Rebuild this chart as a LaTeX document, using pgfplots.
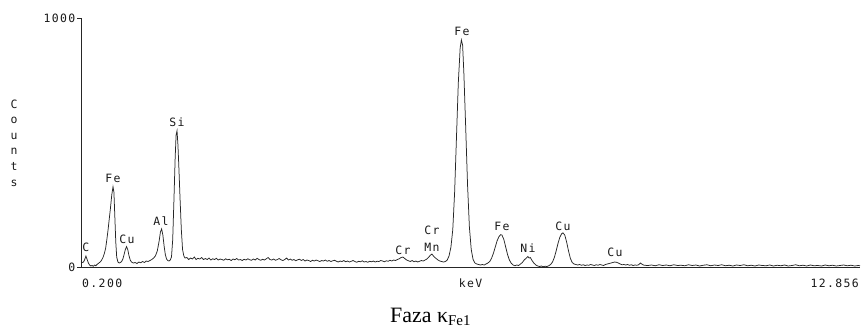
\documentclass[border=0pt]{standalone}
\usepackage{pgfplots}
\pgfplotsset{compat=1.18}
\usepackage{pgfplotstable}
\usepackage{fontspec}
\setmainfont{Liberation Serif}
\newfontfamily\mono[LetterSpace=12]{DejaVu Sans Mono}
\newcommand\lbl{\mono\fontsize{11.5}{13}\selectfont}
\tikzset{pk/.style={font=\lbl, text=black!90, inner sep=0pt}}

\pgfplotstableread{
x y
0.20 22
0.22 18
0.24 20
0.26 30
0.28 44
0.30 30
0.32 16
0.34 8
0.36 4
0.38 6
0.40 3
0.42 8
0.44 5
0.46 10
0.48 14
0.50 18
0.52 22
0.54 30
0.56 40
0.58 55
0.60 75
0.62 110
0.64 150
0.66 195
0.68 240
0.70 290
0.72 322
0.735 300
0.75 200
0.765 100
0.78 40
0.80 20
0.82 16
0.84 18
0.86 22
0.88 32
0.90 50
0.92 70
0.94 82
0.96 70
0.98 45
1.00 28
1.02 20
1.05 16
1.08 18
1.11 14
1.14 20
1.17 17
1.20 22
1.23 18
1.26 24
1.29 22
1.32 26
1.35 30
1.38 36
1.41 45
1.44 65
1.47 105
1.49 140
1.51 153
1.53 128
1.55 85
1.57 50
1.59 32
1.61 26
1.63 24
1.65 28
1.67 40
1.69 110
1.71 270
1.73 440
1.745 530
1.76 547
1.775 490
1.79 400
1.81 270
1.83 150
1.85 70
1.87 45
1.89 36
1.92 38
1.95 30
1.98 36
2.01 32
2.04 40
2.07 30
2.10 35
2.13 32
2.16 38
2.19 30
2.22 34
2.25 30
2.28 36
2.31 28
2.34 33
2.37 30
2.40 35
2.43 28
2.46 32
2.49 30
2.52 27
2.55 33
2.58 29
2.61 31
2.64 26
2.67 32
2.70 29
2.73 34
2.76 28
2.79 30
2.82 26
2.85 31
2.88 28
2.91 33
2.94 29
2.97 27
3.00 32
3.03 28
3.06 35
3.09 30
3.12 27
3.15 31
3.18 28
3.21 33
3.24 38
3.27 30
3.30 28
3.33 32
3.36 27
3.39 30
3.42 34
3.45 29
3.48 26
3.51 30
3.54 36
3.57 28
3.60 32
3.63 27
3.66 30
3.69 25
3.72 29
3.75 31
3.78 26
3.81 30
3.84 24
3.87 28
3.90 26
3.93 22
3.96 27
3.99 24
4.02 28
4.05 25
4.08 22
4.11 26
4.14 24
4.17 28
4.20 23
4.23 26
4.26 22
4.29 25
4.32 27
4.35 23
4.38 20
4.41 24
4.44 22
4.47 26
4.50 21
4.53 24
4.56 20
4.59 23
4.62 26
4.65 22
4.68 19
4.71 23
4.74 21
4.77 25
4.80 20
4.83 22
4.86 19
4.89 23
4.92 21
4.95 24
4.98 20
5.01 23
5.04 22
5.07 26
5.10 24
5.13 21
5.16 25
5.19 23
5.22 27
5.25 24
5.28 28
5.31 26
5.34 30
5.37 33
5.40 38
5.43 40
5.46 34
5.49 28
5.52 25
5.55 22
5.58 26
5.61 21
5.64 24
5.67 20
5.70 23
5.73 26
5.76 24
5.79 28
5.82 32
5.85 40
5.88 48
5.90 52
5.92 46
5.94 40
5.97 34
6.00 28
6.03 24
6.06 22
6.09 20
6.12 22
6.15 28
6.18 45
6.21 80
6.24 150
6.27 300
6.30 520
6.33 740
6.36 880
6.38 912
6.40 890
6.42 780
6.45 560
6.48 330
6.51 160
6.54 70
6.57 30
6.60 16
6.63 12
6.66 10
6.69 8
6.72 10
6.75 8
6.78 12
6.81 16
6.84 22
6.87 35
6.90 55
6.93 80
6.96 105
6.99 122
7.02 130
7.04 128
7.07 110
7.10 80
7.13 50
7.16 28
7.19 15
7.22 8
7.25 5
7.28 8
7.31 6
7.34 12
7.37 18
7.40 28
7.43 35
7.46 42
7.48 36
7.50 38
7.53 25
7.56 15
7.59 8
7.62 4
7.65 2
7.68 4
7.71 1
7.74 3
7.77 2
7.80 5
7.83 10
7.86 20
7.89 38
7.92 65
7.95 95
7.98 120
8.01 134
8.03 137
8.06 128
8.09 100
8.12 65
8.15 35
8.18 18
8.21 12
8.24 10
8.27 8
8.30 10
8.33 7
8.36 9
8.39 6
8.42 8
8.45 7
8.48 10
8.51 8
8.54 6
8.57 9
8.60 7
8.63 10
8.66 8
8.69 6
8.72 10
8.75 12
8.78 14
8.81 16
8.84 18
8.87 20
8.90 19
8.93 16
8.96 12
8.99 9
9.02 10
9.05 8
9.08 10
9.11 7
9.14 9
9.17 6
9.20 8
9.23 7
9.26 9
9.29 16
9.32 10
9.35 7
9.41 6
9.47 8
9.53 5
9.59 9
9.65 6
9.71 8
9.77 5
9.83 9
9.89 6
9.95 7
10.01 5
10.07 9
10.13 6
10.19 8
10.25 4
10.31 7
10.37 9
10.43 5
10.49 8
10.55 6
10.61 9
10.67 5
10.73 7
10.79 4
10.85 8
10.91 6
10.97 9
11.03 5
11.09 7
11.15 4
11.21 8
11.27 6
11.33 5
11.39 8
11.45 4
11.51 7
11.57 5
11.63 8
11.69 4
11.75 6
11.81 9
11.87 5
11.93 7
11.99 4
12.05 8
12.11 5
12.17 6
12.23 4
12.29 8
12.35 5
12.41 7
12.47 4
12.53 6
12.59 8
12.65 5
12.71 7
12.77 4
12.83 6
12.856 5
}\spectrum

\begin{document}
\begin{tikzpicture}
\useasboundingbox (0,0) rectangle (861bp,329bp);
\begin{axis}[
  at={(81bp,62bp)}, anchor=south west,
  width=779bp, height=249bp, scale only axis,
  xmin=0.2, xmax=12.856, ymin=0, ymax=1000,
  axis x line=bottom, axis y line=left,
  axis line style={-, line width=0.9bp, black!85},
  xtick=\empty,
  ytick={0,1000}, yticklabels={0,1000},
  yticklabel style={font=\lbl, text=black!90, inner sep=1.5bp},
  tick style={line width=0.9bp, black!85},
  tick align=outside, major tick length=4bp,
  clip=false,
]
\addplot[black!85, line width=0.75bp, mark=none] table[x=x,y=y] {\spectrum};

\node[pk] at (axis cs:0.28,80) {C};
\node[pk] at (axis cs:0.72,357) {Fe};
\node[pk] at (axis cs:0.947,112) {Cu};
\node[pk] at (axis cs:1.50,185) {Al};
\node[pk] at (axis cs:1.76,582) {Si};
\node[pk] at (axis cs:5.43,68) {Cr};
\node[pk] at (axis cs:5.90,149) {Cr};
\node[pk] at (axis cs:5.90,80) {Mn};
\node[pk] at (axis cs:6.39,948) {Fe};
\node[pk] at (axis cs:7.04,165) {Fe};
\node[pk] at (axis cs:7.46,76) {Ni};
\node[pk] at (axis cs:8.03,165) {Cu};
\node[pk] at (axis cs:8.875,60) {Cu};
\end{axis}
\node[pk, anchor=base west] at (82bp,41bp) {0.200};
\node[pk, anchor=base] at (470.5bp,41bp) {keV};
\node[pk, anchor=base east] at (859bp,41bp) {12.856};
\node[pk, font=\mono\fontsize{11.5}{15.7}\selectfont, align=center] at (14bp,186bp) {C\\o\\u\\n\\t\\s};
\node[anchor=base west, inner sep=0pt, font=\fontsize{22}{26}\selectfont] at (390bp,7bp) {Faza κ\raisebox{-3bp}{\fontsize{15}{18}\selectfont Fe1}};
\end{tikzpicture}
\end{document}
